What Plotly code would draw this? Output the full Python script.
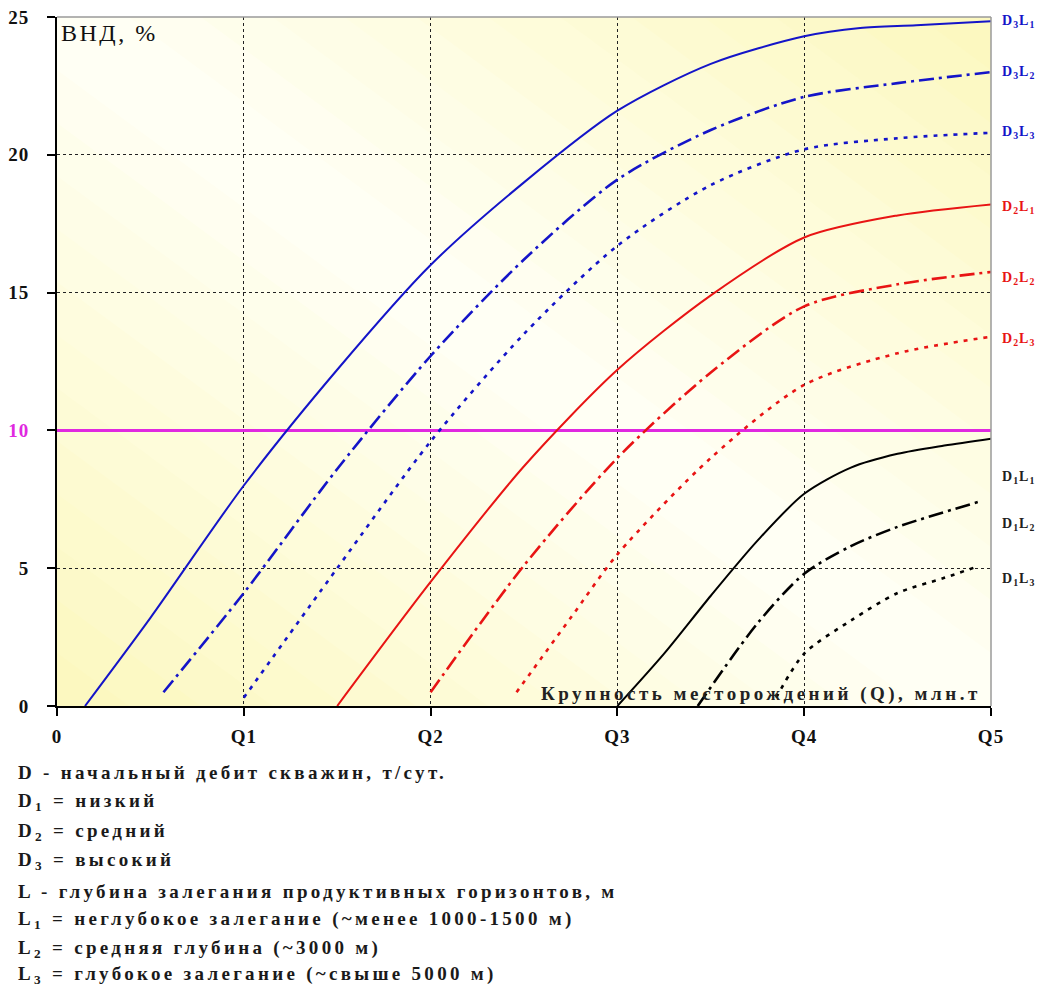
import plotly.graph_objects as go

# ---- data ----
x_ticks = [0, 1, 2, 3, 4, 5]
x_tick_labels = ["0", "Q1", "Q2", "Q3", "Q4", "Q5"]
y_ticks = [0, 5, 10, 15, 20, 25]
y_tick_labels = ["0", "5", "10", "15", "20", "25"]

threshold = 10

d3l1_x = [0.15, 0.5, 1.0, 1.5, 2.0, 2.5, 3.0, 3.5, 4.0, 4.3, 4.6, 5.0]
d3l1_y = [0.0, 3.2, 8.0, 12.2, 16.0, 19.0, 21.6, 23.3, 24.3, 24.6, 24.7, 24.85]

d3l2_x = [0.57, 1.0, 1.5, 2.0, 2.5, 3.0, 3.5, 4.0, 4.5, 5.0]
d3l2_y = [0.5, 4.1, 8.6, 12.7, 16.2, 19.1, 20.9, 22.1, 22.6, 23.0]

d3l3_x = [1.0, 1.5, 2.0, 2.5, 3.0, 3.5, 4.0, 4.5, 5.0]
d3l3_y = [0.3, 5.0, 9.6, 13.5, 16.7, 18.9, 20.2, 20.6, 20.8]

d2l1_x = [1.5, 2.0, 2.5, 3.0, 3.5, 4.0, 4.5, 5.0]
d2l1_y = [0.0, 4.5, 8.7, 12.2, 14.9, 17.0, 17.8, 18.2]

d2l2_x = [2.0, 2.5, 3.0, 3.5, 4.0, 4.5, 5.0]
d2l2_y = [0.5, 5.1, 9.0, 12.1, 14.5, 15.3, 15.75]

d2l3_x = [2.46, 2.75, 3.0, 3.5, 4.0, 4.5, 5.0]
d2l3_y = [0.5, 3.2, 5.5, 9.0, 11.65, 12.8, 13.4]

d1l1_x = [3.0, 3.25, 3.5, 3.75, 4.0, 4.25, 4.5, 4.75, 5.0]
d1l1_y = [0.0, 1.9, 4.0, 6.0, 7.7, 8.65, 9.15, 9.45, 9.7]

d1l2_x = [3.43, 3.75, 4.0, 4.25, 4.5, 4.93]
d1l2_y = [0.0, 3.0, 4.8, 5.8, 6.5, 7.4]

d1l3_x = [3.85, 4.0, 4.25, 4.5, 4.75, 4.93]
d1l3_y = [0.3, 1.9, 3.1, 4.1, 4.65, 5.07]

series_names = ["D<sub>3</sub>L<sub>1</sub>", "D<sub>3</sub>L<sub>2</sub>", "D<sub>3</sub>L<sub>3</sub>",
                "D<sub>2</sub>L<sub>1</sub>", "D<sub>2</sub>L<sub>2</sub>", "D<sub>2</sub>L<sub>3</sub>",
                "D<sub>1</sub>L<sub>1</sub>", "D<sub>1</sub>L<sub>2</sub>", "D<sub>1</sub>L<sub>3</sub>"]
label_y = [24.85, 23.0, 20.8, 18.1, 15.5, 13.3, 8.3, 6.6, 4.6]

notes = [
    "D - начальный дебит скважин, т/сут.",
    "D<sub>1</sub> = низкий",
    "D<sub>2</sub> = средний",
    "D<sub>3</sub> = высокий",
    "L - глубина залегания продуктивных горизонтов, м",
    "L<sub>1</sub> = неглубокое залегание (~менее 1000-1500 м)",
    "L<sub>2</sub> = средняя глубина (~3000 м)",
    "L<sub>3</sub> = глубокое залегание (~свыше 5000 м)",
]

# ---- styling ----
BLUE = "#1414C8"
RED = "#E81414"
BLACK = "#000000"
MAG = "#E028E0"
SERIF = "Liberation Serif, Times New Roman, serif"
DASHDOT = "15px,5px,3px,5px"
SHORT = "4px,6px"

# the page body has an 8px margin; the figure is sized/offset to compensate
PAGE_OFF = 8
FIG_W, FIG_H = 1046 - PAGE_OFF, 992 - PAGE_OFF
PLOT_L, PLOT_R, PLOT_T, PLOT_B = 57, 991, 17, 706   # in page pixels


def spaced(txt, px, color=None):
    style = "letter-spacing:%spx" % px
    if color:
        style += ";color:%s" % color
    return "<span style='%s'>%s</span>" % (style, txt)


series = [
    (d3l1_x, d3l1_y, BLUE, "solid"),
    (d3l2_x, d3l2_y, BLUE, DASHDOT),
    (d3l3_x, d3l3_y, BLUE, SHORT),
    (d2l1_x, d2l1_y, RED, "solid"),
    (d2l2_x, d2l2_y, RED, DASHDOT),
    (d2l3_x, d2l3_y, RED, SHORT),
    (d1l1_x, d1l1_y, BLACK, "solid"),
    (d1l2_x, d1l2_y, BLACK, DASHDOT),
    (d1l3_x, d1l3_y, BLACK, SHORT),
]

fig = go.Figure()

# threshold line
fig.add_trace(go.Scatter(x=[x_ticks[0], x_ticks[-1]], y=[threshold, threshold], mode="lines",
                         line=dict(color=MAG, width=3), showlegend=False, hoverinfo="skip"))

for (xs, ys, col, dash), name in zip(series, series_names):
    w = 2.0 if dash == "solid" else 2.6
    fig.add_trace(go.Scatter(x=xs, y=ys, mode="lines", name=name,
                             line=dict(color=col, width=w, dash=dash, shape="spline", smoothing=0.8),
                             showlegend=False))

annotations = []
label_colors = [BLUE] * 3 + [RED] * 3 + ["#202020"] * 3
for name, yv, col in zip(series_names, label_y, label_colors):
    annotations.append(dict(x=1.0, xref="paper", y=yv, yref="y", text=spaced(name, 1), showarrow=False,
                            xanchor="left", xshift=9,
                            font=dict(family=SERIF, size=14, color=col, weight="bold")))

annotations.append(dict(x=0, xref="paper", y=1, yref="paper", text=spaced("ВНД, %", 2.5), showarrow=False,
                        xanchor="left", yanchor="top", xshift=2, yshift=-1,
                        font=dict(family=SERIF, size=24, color="#111111")))
annotations.append(dict(x=1, xref="paper", y=0.45, yref="y",
                        text=spaced("Крупность месторождений (Q), млн.т", 3.5),
                        showarrow=False, xanchor="right", xshift=-8,
                        font=dict(family=SERIF, size=19, color="#222222", weight="bold")))

plot_h = PLOT_B - PLOT_T
note_py = [773, 802, 832, 861, 891, 920, 949, 975]   # page pixels of each line centre
for txt, py in zip(notes, note_py):
    annotations.append(dict(x=0, xref="paper", xanchor="left", xshift=-41,
                            y=(PLOT_B - py) / plot_h, yref="paper", yanchor="middle",
                            text=spaced(txt, 3.3), showarrow=False,
                            font=dict(family=SERIF, size=19, color="#1a1a1a", weight="bold")))

# diagonal background gradient (yellow at top-right / bottom-left corners, pale along the diagonal)
edge = (252, 248, 192)
centre = (255, 255, 244)
steps = 12
shapes = [dict(type="rect", xref="paper", yref="paper", x0=0, x1=1, y0=0, y1=1, layer="below",
               line=dict(width=0), fillcolor="rgb(%d,%d,%d)" % centre)]
for i in range(1, steps + 1):
    t = i / (steps + 1)
    f = i / steps
    c = tuple(round(centre[k] + (edge[k] - centre[k]) * f) for k in range(3))
    col = "rgb(%d,%d,%d)" % c
    shapes.append(dict(type="path", xref="paper", yref="paper", layer="below", line=dict(width=0),
                       fillcolor=col, path="M %f,1 L 1,1 L 1,%f Z" % (t, t)))
    shapes.append(dict(type="path", xref="paper", yref="paper", layer="below", line=dict(width=0),
                       fillcolor=col, path="M 0,0 L %f,0 L 0,%f Z" % (1 - t, 1 - t)))
shapes += [
    dict(type="line", xref="paper", yref="paper", x0=0, x1=1, y0=1, y1=1,
         line=dict(color="#9a9a9a", width=1.5)),
    dict(type="line", xref="paper", yref="paper", x0=1, x1=1, y0=0, y1=1,
         line=dict(color="#9a9a9a", width=1.5)),
]

fig.update_layout(
    width=FIG_W, height=FIG_H,
    margin=dict(l=PLOT_L - PAGE_OFF, r=FIG_W - (PLOT_R - PAGE_OFF),
                t=PLOT_T - PAGE_OFF, b=FIG_H - (PLOT_B - PAGE_OFF), pad=0),
    paper_bgcolor="white",
    plot_bgcolor="rgb(255,255,244)",
    annotations=annotations,
    shapes=shapes,
)

x_text = [spaced(t, 1) for t in x_tick_labels]
y_text = [spaced(t, 1, MAG if v == threshold else None) for t, v in zip(y_tick_labels, y_ticks)]

fig.update_xaxes(range=[0, 5], tickvals=x_ticks, ticktext=x_text, automargin=False,
                 ticklabeloverflow="allow",
                 showgrid=True, gridcolor="#222222", griddash="3px,3px", gridwidth=1,
                 showline=True, linecolor="black", linewidth=2,
                 ticks="outside", ticklen=8, tickcolor="black", tickwidth=1.5,
                 ticklabelstandoff=4, zeroline=False,
                 tickfont=dict(family=SERIF, size=19, color="#111111", weight="bold"))
fig.update_yaxes(range=[0, 25], tickvals=y_ticks, ticktext=y_text, automargin=False,
                 ticklabeloverflow="allow",
                 showgrid=True, gridcolor="#222222", griddash="3px,3px", gridwidth=1,
                 showline=True, linecolor="black", linewidth=2,
                 ticks="outside", ticklen=8, tickcolor="black", tickwidth=1.5,
                 ticklabelstandoff=14, zeroline=False,
                 tickfont=dict(family=SERIF, size=19, color="#111111", weight="bold"))

fig.write_html("out.html")
